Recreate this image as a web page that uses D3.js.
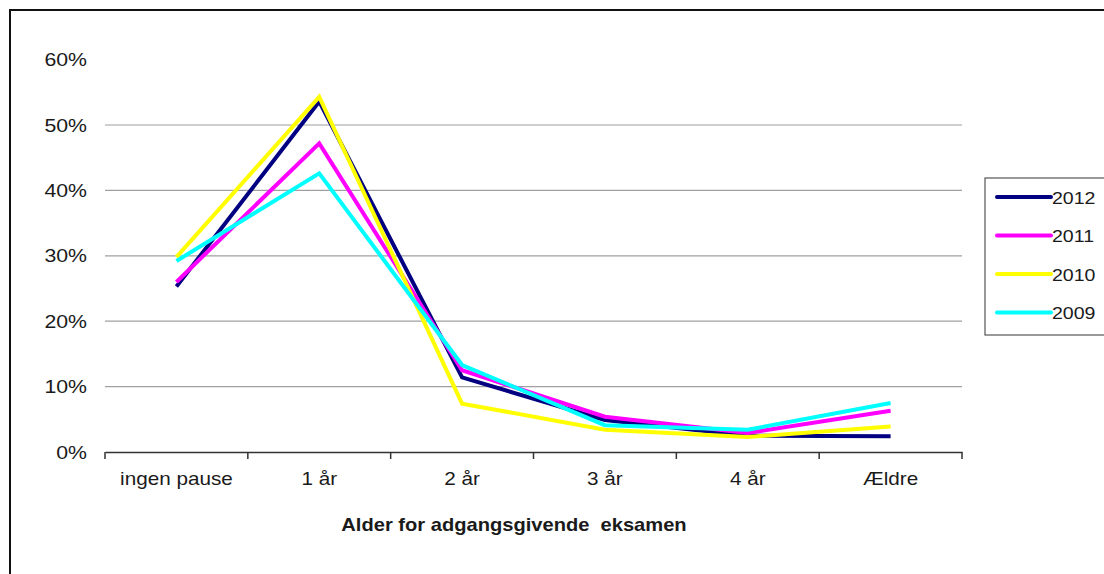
<!DOCTYPE html>
<html><head><meta charset="utf-8">
<script src="https://cdn.jsdelivr.net/npm/d3@7"></script>
<style>body{margin:0;background:#fff}svg{display:block}text{font-family:"Liberation Sans",Arial,sans-serif;fill:#1a1a1a}</style>
</head><body>
<svg id="c" width="1104" height="574"></svg>
<script>
const categories = ["ingen pause","1 år","2 år","3 år","4 år","Ældre"];
const seriesNames = ["2012","2011","2010","2009"];
const colors = ["#000080","#ff00ff","#ffff00","#00ffff"];
const v2012 = [25.3,53.6,11.4,4.9,2.5,2.4];
const v2011 = [26.0,47.2,12.5,5.4,2.9,6.3];
const v2010 = [29.8,54.3,7.4,3.4,2.3,3.9];
const v2009 = [29.2,42.6,13.3,4.1,3.4,7.5];
const yTicks = [0,10,20,30,40,50,60];
const xTitle = "Alder for adgangsgivende  eksamen";
const allSeries = [v2012,v2011,v2010,v2009];

const SX = 1.15;
const svg = d3.select("#c");
svg.append("rect").attr("x",10).attr("y",10).attr("width",1110).attr("height",580)
  .attr("fill","#fff").attr("stroke","#111").attr("stroke-width",2);

const x = d3.scaleBand().domain(categories).range([105,962]);
const y = d3.scaleLinear().domain([0,60]).range([452,59.6]);

function stext(g, tx, ty, str, anchor, size, weight){
  return g.append("text").attr("transform",`translate(${tx},${ty}) scale(${SX},1)`)
    .attr("text-anchor",anchor).attr("font-size",size).attr("font-weight",weight||"normal")
    .style("white-space","pre").text(str);
}

// gridlines
svg.append("g").selectAll("line").data(yTicks.filter(t=>t>0 && t<60)).join("line")
  .attr("x1",105).attr("x2",962).attr("y1",d=>y(d)).attr("y2",d=>y(d))
  .attr("stroke","#a0a0a0").attr("stroke-width",1.2);

// y labels
const gy = svg.append("g");
yTicks.forEach(t=>stext(gy,87,y(t)+6.5,t+"%","end",18.5));

// x axis
const gx = svg.append("g").attr("transform","translate(0,452)")
  .call(d3.axisBottom(x).tickSize(0).tickFormat(""));
gx.select(".domain").attr("stroke","#333").attr("stroke-width",1.5);
const bounds = categories.map(c=>x(c)).concat([x.range()[1]]);
svg.append("g").selectAll("line").data(bounds).join("line")
  .attr("x1",d=>d).attr("x2",d=>d).attr("y1",452).attr("y2",459)
  .attr("stroke","#333").attr("stroke-width",1.5);
const gxl = svg.append("g");
categories.forEach(c=>stext(gxl,x(c)+x.bandwidth()/2,484.5,c,"middle",18));
stext(svg,514,531,xTitle,"middle",17.5,"bold");

// lines
const line = d3.line().x((d,i)=>x(categories[i])+x.bandwidth()/2).y(d=>y(d));
allSeries.forEach((s,i)=>{
  svg.append("path").attr("d",line(s)).attr("fill","none").attr("stroke",colors[i])
    .attr("stroke-width",4).attr("stroke-linejoin","miter");
});

// legend
const lg = svg.append("g");
lg.append("rect").attr("x",985).attr("y",178).attr("width",140).attr("height",157)
  .attr("fill","#fff").attr("stroke","#555").attr("stroke-width",1.2);
seriesNames.forEach((n,i)=>{
  const yy = 197 + i*38.5;
  lg.append("line").attr("x1",997).attr("x2",1051).attr("y1",yy).attr("y2",yy)
    .attr("stroke",colors[i]).attr("stroke-width",4).attr("stroke-linecap","round");
  stext(lg,1052,yy+6.5,n,"start",17);
});
</script>
</body></html>
